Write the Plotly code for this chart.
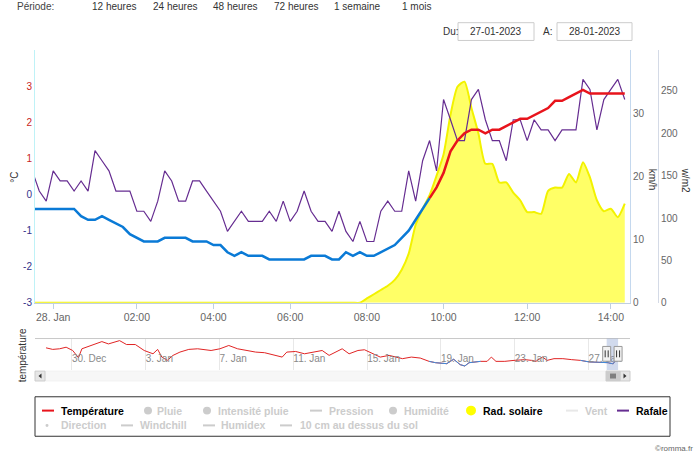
import pandas as pd
import plotly.graph_objects as go

W, H = 700, 462
def fx(px): return px / W
def fy(py): return 1 - py / H

# ---------------- data ----------------
START = "2023-01-27 23:30"
END = "2023-01-28 14:20"
MISSING = ["2023-01-28 02:50", "2023-01-28 04:50", "2023-01-28 06:50", "2023-01-28 08:50"]

temperature = [-0.4, -0.4, -0.4, -0.4, -0.4, -0.4, -0.4, -0.6, -0.7, -0.7,
               -0.6, -0.7, -0.8, -0.9, -1.1, -1.2, -1.3, -1.3, -1.3, -1.2,
               -1.2, -1.2, -1.2, -1.3, -1.3, -1.3, -1.4, -1.4, -1.6, -1.7,
               -1.6, -1.7, -1.7, -1.7, -1.8, -1.8, -1.8, -1.8, -1.8, -1.8,
               -1.7, -1.7, -1.7, -1.8, -1.8, -1.6, -1.7, -1.6, -1.7, -1.7,
               -1.6, -1.5, -1.4, -1.2, -1.0, -0.7, -0.4, -0.1, 0.2, 0.6,
               1.2, 1.5, 1.7, 1.8, 1.8, 1.7, 1.8, 1.8, 1.9, 2.0,
               2.1, 2.1, 2.2, 2.3, 2.4, 2.6, 2.6, 2.7, 2.8, 2.9,
               2.8, 2.8, 2.8, 2.8, 2.8, 2.8]

rafale = [20.9, 17.7, 16.1, 20.9, 19.3, 19.3, 17.7, 19.3, 17.7, 24.1,
          22.5, 20.9, 17.7, 17.7, 17.7, 14.5, 14.5, 12.9, 16.1, 20.9,
          19.3, 16.1, 16.1, 19.3, 19.3, 17.7, 16.1, 14.5, 11.3, 12.9,
          14.5, 12.9, 12.9, 12.9, 14.5, 12.9, 16.1, 12.9, 14.5, 17.7,
          14.5, 12.9, 12.9, 11.3, 14.5, 11.3, 9.7, 12.9, 9.7, 9.7,
          14.5, 16.1, 14.5, 14.5, 20.9, 16.1, 22.5, 25.7, 20.9, 32.2,
          29.0, 25.7, 25.7, 32.2, 33.8, 29.0, 25.7, 25.7, 22.5, 29.0,
          29.0, 25.7, 29.0, 27.4, 27.4, 25.7, 27.4, 27.4, 27.4, 35.4,
          33.8, 27.4, 32.2, 33.8, 35.4, 32.2]

rad_solaire = [0] * 48 + [
    5, 10, 15, 20, 27, 39, 58, 92, 111, 127,
    150, 175, 222, 255, 261, 230, 200, 164, 164, 142,
    142, 130, 121, 107, 107, 105, 132, 136, 136, 152,
    142, 166, 148, 121, 108, 111, 101, 117]

nav_times = [
    "2022-12-28 14:20", "2022-12-28 23:00", "2022-12-29 08:00", "2022-12-29 16:30", "2022-12-30 01:00",
    "2022-12-30 08:30", "2022-12-30 13:00", "2022-12-31 00:30", "2022-12-31 15:00", "2022-12-31 23:30",
    "2023-01-01 14:00", "2023-01-01 23:00", "2023-01-02 10:30", "2023-01-02 22:00", "2023-01-03 09:30",
    "2023-01-03 15:30", "2023-01-03 21:00", "2023-01-04 04:00", "2023-01-04 11:30", "2023-01-04 20:30",
    "2023-01-05 08:00", "2023-01-05 19:30", "2023-01-06 13:00", "2023-01-07 00:30", "2023-01-07 12:00",
    "2023-01-07 23:30", "2023-01-08 11:00", "2023-01-08 23:00", "2023-01-09 10:30", "2023-01-09 22:00",
    "2023-01-10 09:30", "2023-01-10 15:30", "2023-01-11 03:00", "2023-01-11 14:30", "2023-01-12 02:00",
    "2023-01-12 13:30", "2023-01-12 22:30", "2023-01-13 07:00", "2023-01-13 15:30", "2023-01-14 00:30",
    "2023-01-14 12:00", "2023-01-14 20:30", "2023-01-15 05:30", "2023-01-15 17:00", "2023-01-16 04:30",
    "2023-01-16 22:00", "2023-01-17 09:30", "2023-01-17 21:00", "2023-01-18 08:30", "2023-01-18 17:00",
    "2023-01-19 07:30", "2023-01-19 16:30", "2023-01-20 01:00", "2023-01-20 07:00", "2023-01-20 12:30",
    "2023-01-21 03:30", "2023-01-21 12:00", "2023-01-21 17:30", "2023-01-21 23:30", "2023-01-22 11:00",
    "2023-01-22 23:00", "2023-01-23 13:00", "2023-01-23 22:00", "2023-01-24 03:30", "2023-01-24 12:00",
    "2023-01-24 18:00", "2023-01-25 03:00", "2023-01-25 14:30", "2023-01-26 02:00", "2023-01-26 13:30",
    "2023-01-27 01:00", "2023-01-27 12:30"]
nav_temperature = [11.3, 10.0, 10.5, 11.8, 9.1, 3.2, 10.5, 13.2, 16.4, 14.5,
                   17.2, 14.0, 14.0, 9.1, 6.4, 10.0, 3.7, 1.0, 5.1, 7.8,
                   10.0, 10.5, 9.1, 10.5, 13.2, 10.5, 9.1, 7.8, 7.3, 5.6,
                   3.7, 7.8, 8.3, 6.4, 7.8, 9.1, 5.1, 7.8, 10.5, 6.4,
                   9.1, 9.7, 7.0, 3.7, 5.1, 2.4, 3.7, 2.9, 0.2, -0.9,
                   -1.7, 1.9, -2.5, -3.6, -0.9, 0.2, 0.2, 3.7, 0.2, 0.2,
                   1.0, 1.6, 1.0, 0.2, 3.7, 1.0, 2.4, 2.4, 1.6, 1.0,
                   -0.3, -0.5]

temp_ticks = [-3, -2, -1, 0, 1, 2, 3]
wind_ticks = [0, 10, 20, 30]
rad_ticks = [0, 50, 100, 150, 200, 250]
periods = ["12 heures", "24 heures", "48 heures", "72 heures", "1 semaine", "1 mois"]
date_from = "27-01-2023"
date_to = "28-01-2023"

# ---------------- derived ----------------
times = pd.date_range(START, END, freq="10min")
times = times[~times.isin(pd.to_datetime(MISSING))]
pos = list(range(len(times)))
tickvals = [i for i, t in enumerate(times) if t.minute == 0 and t.hour % 2 == 0]
ticktext = ["%d. %s" % (times[i].day, times[i].strftime("%b")) if times[i].hour == 0
            else times[i].strftime("%H:%M") for i in tickvals]

first_pos = next(i for i, v in enumerate(temperature) if v >= 0)

FONT = "Liberation Sans"
RED = "#e8141c"
BLUE = "#0a7ad6"
PURPLE = "#662d91"

fig = go.Figure()
fig.add_trace(go.Scatter(x=pos, y=rad_solaire, mode="lines", xaxis="x", yaxis="y",
                         line=dict(color="#f2f200", width=2, shape="spline", smoothing=0.6),
                         fill="tozeroy", fillcolor="#ffff66", hoverinfo="skip"))
fig.add_trace(go.Scatter(x=pos, y=rafale, mode="lines", xaxis="x", yaxis="y2",
                         line=dict(color=PURPLE, width=1.2)))
fig.add_trace(go.Scatter(x=pos[:first_pos], y=temperature[:first_pos], mode="lines",
                         xaxis="x", yaxis="y3", line=dict(color=BLUE, width=2.5)))
fig.add_trace(go.Scatter(x=pos[first_pos - 1:], y=temperature[first_pos - 1:], mode="lines",
                         xaxis="x", yaxis="y3", line=dict(color=RED, width=2.5)))

# navigator series
nav_x = list(pd.to_datetime(nav_times)) + list(times)
nav_y = nav_temperature + temperature
n = len(nav_y)
nav_blue = [v if (v < 0 or (i > 0 and nav_y[i - 1] < 0) or (i < n - 1 and nav_y[i + 1] < 0)) else None
            for i, v in enumerate(nav_y)]
fig.add_trace(go.Scatter(x=nav_x, y=nav_y, mode="lines", xaxis="x2", yaxis="y4",
                         line=dict(color="#e02424", width=1)))
fig.add_trace(go.Scatter(x=nav_x, y=nav_blue, mode="lines", xaxis="x2", yaxis="y4",
                         line=dict(color="#3a8ee0", width=1)))

temp_text = ['<span style="color:%s">%d</span>' % ("#c81e1e" if v > 0 else "#33338a", v)
             for v in temp_ticks]

main_dom_y = [fy(306.7), fy(51)]
nav_dom_y = [fy(375), fy(343)]

fig.update_layout(
    width=W, height=H, autosize=False,
    margin=dict(l=0, r=0, t=0, b=0),
    paper_bgcolor="white", plot_bgcolor="white",
    showlegend=False,
    font=dict(family=FONT, size=10, color="#333"),
    xaxis=dict(domain=[fx(35), fx(630)], range=[0.39, 85.75], anchor="y",
               tickmode="array", tickvals=tickvals, ticktext=ticktext,
               ticks="outside", ticklen=5, tickcolor="#c0d0e0",
               showgrid=False, zeroline=False, showline=True, linecolor="#c0d0e0",
               tickfont=dict(size=10.5, color="#666")),
    yaxis=dict(domain=main_dom_y, range=[0, 298], anchor="free", position=fx(658), side="right",
               tickmode="array", tickvals=rad_ticks, showgrid=False, zeroline=False,
               showline=True, linecolor="#d4dae6", ticks="",
               tickfont=dict(size=10, color="#666")),
    yaxis2=dict(overlaying="y", anchor="x", side="right", range=[0, 40],
                tickmode="array", tickvals=wind_ticks, showgrid=False, zeroline=False,
                showline=True, linecolor="#c4d8ee", ticks="",
                tickfont=dict(size=10, color="#666")),
    yaxis3=dict(overlaying="y", anchor="x", side="left", range=[-3, 4],
                tickmode="array", tickvals=temp_ticks, ticktext=temp_text,
                showgrid=False, zeroline=False, showline=True, linecolor="#bff2f7", ticks="",
                tickfont=dict(size=10)),
    xaxis2=dict(domain=[fx(35), fx(630)], anchor="y4", type="date",
                range=["2022-12-28 00:00", "2023-01-29 05:50"],
                tick0="2022-12-30", dtick=4 * 86400000, tickformat="%-d. %b",
                ticklabelposition="inside right", ticks="",
                showgrid=True, gridcolor="#e8e8e8", zeroline=False, showline=False,
                tickfont=dict(size=10, color="#8a8a8a")),
    yaxis4=dict(domain=nav_dom_y, anchor="x2", range=[-7, 18.9], visible=False),
)

shapes = []
ann = []

def rect(x0, y0, x1, y1, fill="white", line="#cccccc", lw=1):
    shapes.append(dict(type="rect", xref="paper", yref="paper", x0=fx(x0), x1=fx(x1),
                       y0=fy(y1), y1=fy(y0), fillcolor=fill, line=dict(color=line, width=lw)))

def hline(x0, x1, y, color, lw=1):
    shapes.append(dict(type="line", xref="paper", yref="paper", x0=fx(x0), x1=fx(x1),
                       y0=fy(y), y1=fy(y), line=dict(color=color, width=lw)))

def text(x, y, s, size=10, color="#333", xanchor="left", bold=False, angle=0):
    ann.append(dict(x=fx(x), y=fy(y), xref="paper", yref="paper", text=s, showarrow=False,
                    xanchor=xanchor, yanchor="middle", textangle=angle,
                    font=dict(family=FONT, size=size, color=color,
                              weight="bold" if bold else "normal")))

# top controls
text(15, 7, "Période:", 10, "#444")
for s, x in zip(periods, [90, 151, 211, 272, 332, 400]):
    text(x, 7, s, 10, "#333")
text(441, 32, "Du:", 10, "#333")
rect(458, 23, 534, 41)
text(496, 32, date_from, 10, "#333", xanchor="center")
text(541, 32, "A:", 10, "#333")
rect(557, 23, 632, 41)
text(594.5, 32, date_to, 10, "#333", xanchor="center")

# axis titles
text(15, 180, "°C", 10, "#333", xanchor="center", angle=-90)
text(652, 182, "km/h", 10, "#333", xanchor="center", angle=90)
text(685, 182, "w/m2", 10, "#333", xanchor="center", angle=90)
text(22, 360, "température", 10, "#333", xanchor="center", angle=-90)

# navigator decorations
hline(35, 630, 343, "#c8c8c8")
shapes.append(dict(type="rect", xref="x2", yref="y4 domain", x0=times[0], x1=times[-1],
                   y0=0, y1=1, fillcolor="rgba(102,133,194,0.3)", line=dict(width=0)))
for t in (times[0], times[-1]):
    shapes.append(dict(type="rect", xref="x2", xsizemode="pixel", xanchor=t, x0=-4, x1=4,
                       yref="paper", y0=fy(366), y1=fy(351), fillcolor="#f2f2f2",
                       line=dict(color="#999999", width=1)))
    for dx in (-1.5, 1.5):
        shapes.append(dict(type="line", xref="x2", xsizemode="pixel", xanchor=t, x0=dx, x1=dx,
                           yref="paper", y0=fy(362), y1=fy(355), line=dict(color="#333", width=1)))

# scrollbar
rect(45, 376, 620, 386, fill="#f7f7f7", line="#f2f2f2")
rect(35, 376, 45, 386, fill="#e6e6e6", line="#cccccc")
rect(620, 376, 630, 386, fill="#e6e6e6", line="#cccccc")
rect(606, 376, 620, 386, fill="#cccccc", line="#cccccc")
for gx in (611, 613, 615):
    shapes.append(dict(type="line", xref="paper", yref="paper", x0=fx(gx), x1=fx(gx),
                       y0=fy(383.5), y1=fy(378.5), line=dict(color="#333", width=1)))
shapes.append(dict(type="path", xref="paper", yref="paper",
                   path="M %f %f L %f %f L %f %f Z" % (fx(41.5), fy(378.5), fx(38.5), fy(381), fx(41.5), fy(383.5)),
                   fillcolor="#333", line=dict(width=0)))
shapes.append(dict(type="path", xref="paper", yref="paper",
                   path="M %f %f L %f %f L %f %f Z" % (fx(623.5), fy(378.5), fx(626.5), fy(381), fx(623.5), fy(383.5)),
                   fillcolor="#333", line=dict(width=0)))

# legend
rect(35, 402, 670, 442, fill="white", line="#333333")
GRAY = "#cccccc"
legend_items = [
    ("line", 42, 416, RED, "Température", 59, "#000"),
    ("dot", 148, 416, GRAY, "Pluie", 155, GRAY),
    ("dot", 207, 416, GRAY, "Intensité pluie", 216, GRAY),
    ("line", 310, 416, GRAY, "Pression", 327, GRAY),
    ("dot", 393, 416, GRAY, "Humidité", 402, GRAY),
    ("bigdot", 471, 416, "#ffff00", "Rad. solaire", 481, "#000"),
    ("line", 566, 416, "#e8e8e8", "Vent", 583, GRAY),
    ("line", 617, 416, PURPLE, "Rafale", 634, "#000"),
    ("small", 47, 431, GRAY, "Direction", 59, GRAY),
    ("line", 121, 431, GRAY, "Windchill", 138, GRAY),
    ("line", 203, 431, GRAY, "Humidex", 219, GRAY),
    ("line", 280, 431, GRAY, "10 cm au dessus du sol", 298, GRAY),
]
for kind, sx, sy, col, label, tx, tcol in legend_items:
    if kind == "line":
        hline(sx, sx + 12, sy, col, 2)
    else:
        r = {"dot": 4, "bigdot": 5, "small": 1.5}[kind]
        shapes.append(dict(type="circle", xref="paper", yref="paper",
                           x0=fx(sx - r), x1=fx(sx + r), y0=fy(sy + r), y1=fy(sy - r),
                           fillcolor=col, line=dict(width=0)))
    text(tx, sy, label, 10.5, tcol, bold=True)

text(695, 454, "©romma.fr", 8, "#666", xanchor="right")

fig.update_layout(shapes=shapes, annotations=ann)
fig.write_html("out.html", config={"displayModeBar": False})
